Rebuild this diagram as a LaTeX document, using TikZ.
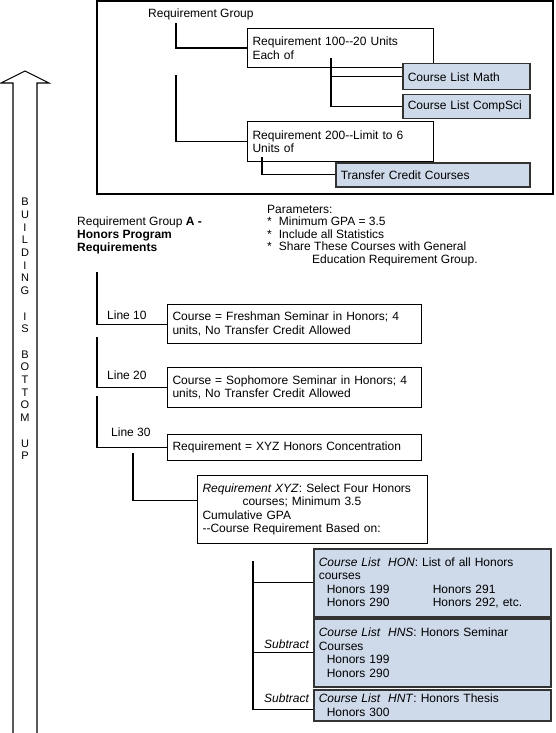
\documentclass[tikz,border=0pt]{standalone}
\usepackage{fontspec}
\setmainfont{Liberation Sans}
\definecolor{listblue}{RGB}{206,217,234}
\definecolor{listedge}{RGB}{51,51,51}
\tikzset{
  reqbox/.style={draw, line width=1.1pt, anchor=north west, align=left, inner xsep=5pt, inner ysep=0pt, font=\fontsize{12}{13.5}\selectfont},
  listbox/.style={reqbox, fill=listblue, draw=listedge, line width=1.5pt},
  plain/.style={anchor=west, inner sep=0pt, font=\fontsize{12}{13.5}\selectfont},
  link/.style={line width=1.1pt}
}
\begin{document}
\begin{tikzpicture}[x=1pt,y=-1pt]
\useasboundingbox (0,0) rectangle (555,733);
%\draw [thin,red] (0,0) rectangle (555,733);
\draw [link] (97,1) rectangle (553,194);
\node [plain] (rg) at (148,14) {Requirement Group};
\node [reqbox, text width=176pt, minimum height=39pt] (r100) at (247,28) {Requirement 100-{}-20 Units\\Each of};
\node [listbox, text width=117pt, minimum height=26pt] (math) at (402,63) {Course List Math};
\node [listbox, text width=117pt, minimum height=24pt] (csci) at (402,94) {Course List CompSci};
\node [reqbox, text width=176pt, minimum height=40pt] (r200) at (247,121) {Requirement 200-{}-Limit to 6\\Units of};
\node [listbox, text width=184pt, minimum height=24pt] (tcc) at (335,162) {Transfer Credit Courses};

\coordinate (rgdrop) at (176,23);
\coordinate (rgdrop2) at (176,75);
\coordinate (r100drop) at (331,58);
\coordinate (r200drop) at (262,157);
\draw [link] (rgdrop) |- (r100.west);
\draw [link] (rgdrop2) |- (r200.west);
\draw [link] (r100drop) |- (csci.west);
\draw [link] (r100drop |- math.west) -- (math.west);
\draw [link] (r200drop) |- (tcc.west);

\draw [line width=1.1pt] (13,733) -- (13,83) -- (1,83) -- (25,71) -- (49,83) -- (37,83) -- (37,733);
\node [inner sep=0pt, anchor=north, align=center, font=\fontsize{11}{12.7}\selectfont] (motto) at (25,198) {B\\U\\I\\L\\D\\I\\N\\G\\[12.7pt]I\\S\\[12.7pt]B\\O\\T\\T\\O\\M\\[12.7pt]U\\P};

\node [plain, anchor=north west, align=left, font=\fontsize{12}{13}\selectfont] (grpA) at (77,217) {Requirement Group \textbf{A -}\\\textbf{Honors Program}\\\textbf{Requirements}};
\node [plain, anchor=north west, align=left, font=\fontsize{12}{12.5}\selectfont] (params) at (267,205) {Parameters:\\{*}\hspace{7pt}Minimum GPA = 3.5\\{*}\hspace{7pt}Include all Statistics\\{*}\hspace{7pt}Share These Courses with General\\\hspace*{45pt}Education Requirement Group.};

\node [reqbox, text width=244pt, minimum height=39pt] (b10) at (167,304) {Course = Freshman Seminar in Honors; 4\\units, No Transfer Credit Allowed};
\node [reqbox, text width=244pt, minimum height=40pt] (b20) at (167,367) {Course = Sophomore Seminar in Honors; 4\\units, No Transfer Credit Allowed};
\node [reqbox, text width=244pt, minimum height=26pt] (b30) at (167,434) {Requirement = XYZ Honors Concentration};
\node [plain] (l10) at (107,315) {Line 10};
\node [plain] (l20) at (107,375) {Line 20};
\node [plain] (l30) at (111,432) {Line 30};

\coordinate (v10) at (97,272);
\coordinate (v20) at (97,337);
\coordinate (v30) at (97,396);
\draw [link] (v10) |- (b10.west);
\draw [link] (v20) |- (b20.west);
\draw [link] (v30) |- (b30.west);

\node [reqbox, text width=220pt, minimum height=68pt] (xyz) at (197,475) {\textit{Requirement XYZ}: Select Four Honors\\\hspace*{40pt}courses; Minimum 3.5\\Cumulative GPA\\-{}-Course Requirement Based on:};
\coordinate (vxyz) at (133,453);
\draw [link] (vxyz) |- ([yshift=9pt]xyz.west);

\node [listbox, text width=227pt, minimum height=68pt] (hon) at (313,548) {\textit{Course List\ \ HON}: List of all Honors\\courses\\\hspace*{8pt}\makebox[106pt][l]{Honors 199}Honors 291\\\hspace*{8pt}\makebox[106pt][l]{Honors 290}Honors 292, etc.};
\node [listbox, text width=227pt, minimum height=68pt] (hns) at (313,618) {\textit{Course List\ \ HNS}: Honors Seminar\\Courses\\\hspace*{8pt}Honors 199\\\hspace*{8pt}Honors 290};
\node [listbox, text width=227pt, minimum height=31pt] (hnt) at (313,689) {\textit{Course List\ \ HNT}: Honors Thesis\\\hspace*{8pt}Honors 300};
\node [plain, font=\fontsize{12}{13.5}\selectfont\itshape] (sub1) at (264,644) {Subtract};
\node [plain, font=\fontsize{12}{13.5}\selectfont\itshape] (sub2) at (264,698) {Subtract};

\coordinate (vlist) at (253,561);
\draw [link] (vlist) |- ([yshift=-4pt]hnt.west);
\draw [link] (vlist |- hon.west) -- (hon.west);
\draw [link] (vlist |- hns.west) -- (hns.west);
\end{tikzpicture}
\end{document}
